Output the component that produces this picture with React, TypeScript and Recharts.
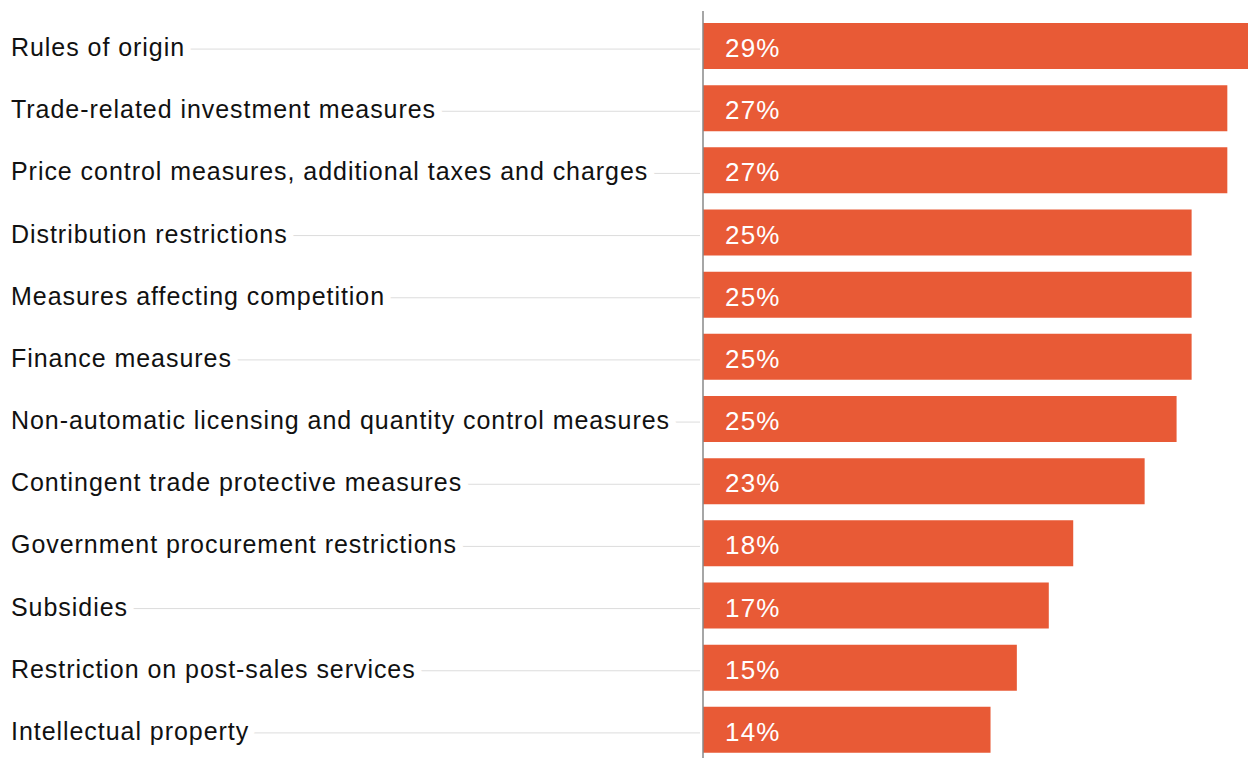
import { BarChart, Bar, XAxis, YAxis, LabelList } from "recharts";

const categories = [
  "Rules of origin",
  "Trade-related investment measures",
  "Price control measures, additional taxes and charges",
  "Distribution restrictions",
  "Measures affecting competition",
  "Finance measures",
  "Non-automatic licensing and quantity control measures",
  "Contingent trade protective measures",
  "Government procurement restrictions",
  "Subsidies",
  "Restriction on post-sales services",
  "Intellectual property",
];

// bar lengths
const values = [29, 27.9, 27.9, 26, 26, 26, 25.2, 23.5, 19.7, 18.4, 16.7, 15.3];

// printed labels
const valueLabels = ["29%", "27%", "27%", "25%", "25%", "25%", "25%", "23%", "18%", "17%", "15%", "14%"];

const data = categories.map((name, i) => ({
  name,
  value: values[i],
  label: valueLabels[i],
}));

const FONT = '"Liberation Sans", Arial, Helvetica, sans-serif';
const BAR_COLOR = "#e85a36";

function CategoryTick(props: any) {
  const { y, payload } = props;
  return (
    <g>
      <line x1={11} x2={700} y1={y + 3} y2={y + 3} stroke="#dcdcdc" strokeWidth={1} />
      <text
        x={11}
        y={y + 10}
        fill="#111"
        fontSize={25}
        fontFamily={FONT}
        letterSpacing={0.95}
        stroke="#fff"
        strokeWidth={16}
        strokeLinejoin="round"
        paintOrder="stroke"
        textAnchor="start"
      >
        {payload.value}
      </text>
    </g>
  );
}

function BarLabel(props: any) {
  const { x, y, height, value } = props;
  return (
    <text
      x={x + 22}
      y={y + height / 2 + 11}
      fill="#fff"
      fontSize={26}
      fontFamily={FONT}
      letterSpacing={1.2}
    >
      {value}
    </text>
  );
}

export default function App() {
  return (
    <div>
      <style>{`body{margin:0;overflow:hidden}`}</style>
      <BarChart
        width={1251}
        height={761}
        data={data}
        layout="vertical"
        margin={{ top: 11, right: 3, left: 0, bottom: 0 }}
      >
        <XAxis type="number" domain={[0, 29]} hide />
        <YAxis
          type="category"
          dataKey="name"
          width={703}
          axisLine={{ stroke: "#888", strokeWidth: 1.5 }}
          tickLine={false}
          tick={<CategoryTick />}
          padding={{ top: 4, bottom: 0 }}
          interval={0}
        />
        <Bar dataKey="value" fill={BAR_COLOR} barSize={46} isAnimationActive={false}>
          <LabelList dataKey="label" content={<BarLabel />} />
        </Bar>
      </BarChart>
    </div>
  );
}
